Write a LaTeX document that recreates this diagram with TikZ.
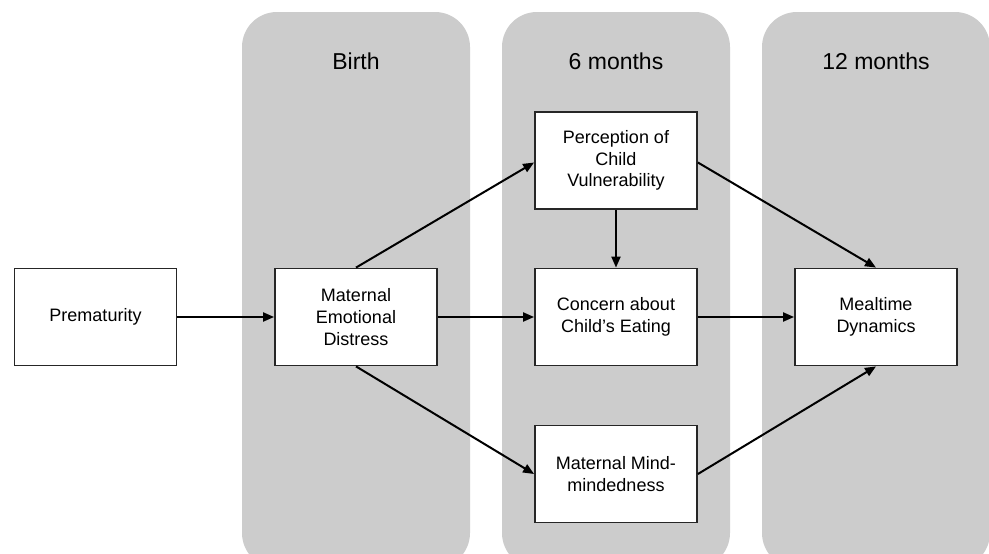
\documentclass[tikz,border=0pt]{standalone}
\usepackage{fontspec}
\setmainfont{Liberation Sans}
\usetikzlibrary{arrows.meta}
\definecolor{colgray}{HTML}{CCCCCC}
\begin{document}
\begin{tikzpicture}[x=1pt,y=-1pt,
  box/.style={draw=black!85, line width=1.8pt, fill=white, minimum width=162pt, minimum height=97pt, inner sep=0pt, align=center, font=\fontsize{18}{21.6}\selectfont},
  coltitle/.style={font=\fontsize{23}{27}\selectfont, inner sep=0pt},
  arr/.style={line width=2pt, -{Triangle[length=11pt,width=9pt]}},
  column/.style={fill=colgray, rounded corners=35pt}]
\useasboundingbox (0,0) rectangle (989,554);
\clip (0,0) rectangle (989,554);
\fill[white] (0,0) rectangle (989,554);
\fill[column] (242,12) rectangle (470,568);
\fill[column] (502,12) rectangle (730,568);
\fill[column] (762,12) rectangle (990,568);
\node[coltitle] (tb) at (356,61) {Birth};
\node[coltitle] (t6) at (616,61) {6 months};
\node[coltitle] (t12) at (876,61) {12 months};
\node[box] (prem) at (95.5,317) {Prematurity};
\node[box] (med) at (356,317) {Maternal\\Emotional\\Distress};
\node[box] (pcv) at (616,160.5) {Perception of\\Child\\Vulnerability};
\node[box] (cce) at (616,317) {Concern about\\Child’s Eating};
\node[box] (mmm) at (616,474) {Maternal Mind-\\mindedness};
\node[box] (md) at (876,317) {Mealtime\\Dynamics};
\draw[arr] (prem.east) -- (med.west);
\draw[arr] (med.east) -- (cce.west);
\draw[arr] (cce.east) -- (md.west);
\draw[arr] (med.north) -- ([yshift=-2pt]pcv.west);
\draw[arr] (med.south) -- (mmm.west);
\draw[arr] (pcv.south) -- (cce.north);
\draw[arr] ([yshift=-2pt]pcv.east) -- (md.north);
\draw[arr] (mmm.east) -- (md.south);
\end{tikzpicture}
\end{document}
